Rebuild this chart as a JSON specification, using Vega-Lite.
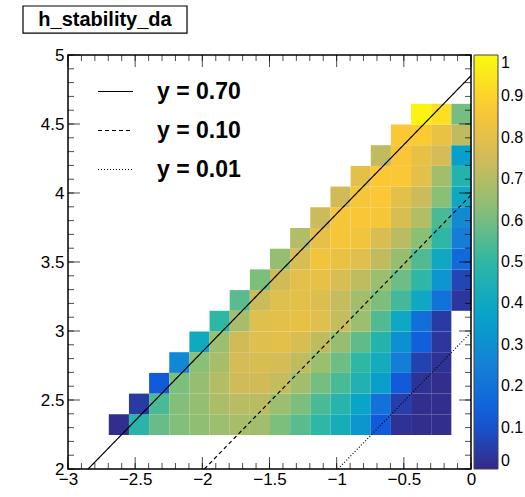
{
  "$schema": "https://vega.github.io/schema/vega-lite/v6.json",
  "padding": {"left": 22, "top": 5, "right": 0, "bottom": 0},
  "width": 403,
  "height": 414,
  "view": {"stroke": null},
  "config": {
    "font": "Liberation Sans",
    "view": {"stroke": null},
    "axis": {
      "labelFont": "Liberation Sans",
      "labelFontSize": 17,
      "labelColor": "#000",
      "ticks": false,
      "domain": false,
      "grid": false,
      "title": null,
      "labelFlush": false,
      "labelOverlap": false
    }
  },
  "datasets": {
    "cells": [
      {"x": -2.625, "y": 2.375, "v": 0.01}, {"x": -2.475, "y": 2.375, "v": 0.48}, {"x": -2.325, "y": 2.375, "v": 0.58},
      {"x": -2.175, "y": 2.375, "v": 0.62}, {"x": -2.025, "y": 2.375, "v": 0.64}, {"x": -1.875, "y": 2.375, "v": 0.66},
      {"x": -1.725, "y": 2.375, "v": 0.68}, {"x": -1.575, "y": 2.375, "v": 0.67}, {"x": -1.425, "y": 2.375, "v": 0.61},
      {"x": -1.275, "y": 2.375, "v": 0.56}, {"x": -1.125, "y": 2.375, "v": 0.5}, {"x": -0.975, "y": 2.375, "v": 0.43},
      {"x": -0.825, "y": 2.375, "v": 0.33}, {"x": -0.675, "y": 2.375, "v": 0.12}, {"x": -0.525, "y": 2.375, "v": 0.02},
      {"x": -0.375, "y": 2.375, "v": 0.01}, {"x": -0.225, "y": 2.375, "v": 0.01},

      {"x": -2.475, "y": 2.525, "v": 0.04}, {"x": -2.325, "y": 2.525, "v": 0.54}, {"x": -2.175, "y": 2.525, "v": 0.62},
      {"x": -2.025, "y": 2.525, "v": 0.65}, {"x": -1.875, "y": 2.525, "v": 0.69}, {"x": -1.725, "y": 2.525, "v": 0.71},
      {"x": -1.575, "y": 2.525, "v": 0.71}, {"x": -1.425, "y": 2.525, "v": 0.66}, {"x": -1.275, "y": 2.525, "v": 0.61},
      {"x": -1.125, "y": 2.525, "v": 0.54}, {"x": -0.975, "y": 2.525, "v": 0.48}, {"x": -0.825, "y": 2.525, "v": 0.38},
      {"x": -0.675, "y": 2.525, "v": 0.2}, {"x": -0.525, "y": 2.525, "v": 0.05}, {"x": -0.375, "y": 2.525, "v": 0.01},
      {"x": -0.225, "y": 2.525, "v": 0.01},

      {"x": -2.325, "y": 2.675, "v": 0.12}, {"x": -2.175, "y": 2.675, "v": 0.61}, {"x": -2.025, "y": 2.675, "v": 0.65},
      {"x": -1.875, "y": 2.675, "v": 0.7}, {"x": -1.725, "y": 2.675, "v": 0.75}, {"x": -1.575, "y": 2.675, "v": 0.75},
      {"x": -1.425, "y": 2.675, "v": 0.73}, {"x": -1.275, "y": 2.675, "v": 0.67}, {"x": -1.125, "y": 2.675, "v": 0.6},
      {"x": -0.975, "y": 2.675, "v": 0.54}, {"x": -0.825, "y": 2.675, "v": 0.46}, {"x": -0.675, "y": 2.675, "v": 0.36},
      {"x": -0.525, "y": 2.675, "v": 0.12}, {"x": -0.375, "y": 2.675, "v": 0.02}, {"x": -0.225, "y": 2.675, "v": 0.01},

      {"x": -2.175, "y": 2.825, "v": 0.27}, {"x": -2.025, "y": 2.825, "v": 0.63}, {"x": -1.875, "y": 2.825, "v": 0.68},
      {"x": -1.725, "y": 2.825, "v": 0.76}, {"x": -1.575, "y": 2.825, "v": 0.77}, {"x": -1.425, "y": 2.825, "v": 0.76},
      {"x": -1.275, "y": 2.825, "v": 0.72}, {"x": -1.125, "y": 2.825, "v": 0.66}, {"x": -0.975, "y": 2.825, "v": 0.59},
      {"x": -0.825, "y": 2.825, "v": 0.5}, {"x": -0.675, "y": 2.825, "v": 0.42}, {"x": -0.525, "y": 2.825, "v": 0.24},
      {"x": -0.375, "y": 2.825, "v": 0.06}, {"x": -0.225, "y": 2.825, "v": 0.02},

      {"x": -2.025, "y": 2.975, "v": 0.41}, {"x": -1.875, "y": 2.975, "v": 0.66}, {"x": -1.725, "y": 2.975, "v": 0.75},
      {"x": -1.575, "y": 2.975, "v": 0.79}, {"x": -1.425, "y": 2.975, "v": 0.8}, {"x": -1.275, "y": 2.975, "v": 0.77},
      {"x": -1.125, "y": 2.975, "v": 0.72}, {"x": -0.975, "y": 2.975, "v": 0.65}, {"x": -0.825, "y": 2.975, "v": 0.57},
      {"x": -0.675, "y": 2.975, "v": 0.47}, {"x": -0.525, "y": 2.975, "v": 0.3}, {"x": -0.375, "y": 2.975, "v": 0.14},
      {"x": -0.225, "y": 2.975, "v": 0.03},

      {"x": -1.875, "y": 3.125, "v": 0.5}, {"x": -1.725, "y": 3.125, "v": 0.68}, {"x": -1.575, "y": 3.125, "v": 0.79},
      {"x": -1.425, "y": 3.125, "v": 0.8}, {"x": -1.275, "y": 3.125, "v": 0.81}, {"x": -1.125, "y": 3.125, "v": 0.79},
      {"x": -0.975, "y": 3.125, "v": 0.73}, {"x": -0.825, "y": 3.125, "v": 0.66}, {"x": -0.675, "y": 3.125, "v": 0.55},
      {"x": -0.525, "y": 3.125, "v": 0.4}, {"x": -0.375, "y": 3.125, "v": 0.19}, {"x": -0.225, "y": 3.125, "v": 0.04},

      {"x": -1.725, "y": 3.275, "v": 0.56}, {"x": -1.575, "y": 3.275, "v": 0.74}, {"x": -1.425, "y": 3.275, "v": 0.79},
      {"x": -1.275, "y": 3.275, "v": 0.8}, {"x": -1.125, "y": 3.275, "v": 0.78}, {"x": -0.975, "y": 3.275, "v": 0.73},
      {"x": -0.825, "y": 3.275, "v": 0.67}, {"x": -0.675, "y": 3.275, "v": 0.61}, {"x": -0.525, "y": 3.275, "v": 0.53},
      {"x": -0.375, "y": 3.275, "v": 0.4}, {"x": -0.225, "y": 3.275, "v": 0.2}, {"x": -0.075, "y": 3.275, "v": 0.03},

      {"x": -1.575, "y": 3.425, "v": 0.61}, {"x": -1.425, "y": 3.425, "v": 0.75}, {"x": -1.275, "y": 3.425, "v": 0.8},
      {"x": -1.125, "y": 3.425, "v": 0.81}, {"x": -0.975, "y": 3.425, "v": 0.77}, {"x": -0.825, "y": 3.425, "v": 0.72},
      {"x": -0.675, "y": 3.425, "v": 0.66}, {"x": -0.525, "y": 3.425, "v": 0.59}, {"x": -0.375, "y": 3.425, "v": 0.5},
      {"x": -0.225, "y": 3.425, "v": 0.32}, {"x": -0.075, "y": 3.425, "v": 0.07},

      {"x": -1.425, "y": 3.575, "v": 0.65}, {"x": -1.275, "y": 3.575, "v": 0.77}, {"x": -1.125, "y": 3.575, "v": 0.84},
      {"x": -0.975, "y": 3.575, "v": 0.82}, {"x": -0.825, "y": 3.575, "v": 0.79}, {"x": -0.675, "y": 3.575, "v": 0.72},
      {"x": -0.525, "y": 3.575, "v": 0.65}, {"x": -0.375, "y": 3.575, "v": 0.55}, {"x": -0.225, "y": 3.575, "v": 0.4},
      {"x": -0.075, "y": 3.575, "v": 0.17},

      {"x": -1.275, "y": 3.725, "v": 0.7}, {"x": -1.125, "y": 3.725, "v": 0.81}, {"x": -0.975, "y": 3.725, "v": 0.85},
      {"x": -0.825, "y": 3.725, "v": 0.84}, {"x": -0.675, "y": 3.725, "v": 0.77}, {"x": -0.525, "y": 3.725, "v": 0.71},
      {"x": -0.375, "y": 3.725, "v": 0.63}, {"x": -0.225, "y": 3.725, "v": 0.5}, {"x": -0.075, "y": 3.725, "v": 0.24},

      {"x": -1.125, "y": 3.875, "v": 0.74}, {"x": -0.975, "y": 3.875, "v": 0.85}, {"x": -0.825, "y": 3.875, "v": 0.86},
      {"x": -0.675, "y": 3.875, "v": 0.85}, {"x": -0.525, "y": 3.875, "v": 0.77}, {"x": -0.375, "y": 3.875, "v": 0.7},
      {"x": -0.225, "y": 3.875, "v": 0.54}, {"x": -0.075, "y": 3.875, "v": 0.28},

      {"x": -0.975, "y": 4.025, "v": 0.75}, {"x": -0.825, "y": 4.025, "v": 0.85}, {"x": -0.675, "y": 4.025, "v": 0.87},
      {"x": -0.525, "y": 4.025, "v": 0.8}, {"x": -0.375, "y": 4.025, "v": 0.74}, {"x": -0.225, "y": 4.025, "v": 0.63},
      {"x": -0.075, "y": 4.025, "v": 0.4},

      {"x": -0.825, "y": 4.175, "v": 0.8}, {"x": -0.675, "y": 4.175, "v": 0.87}, {"x": -0.525, "y": 4.175, "v": 0.87},
      {"x": -0.375, "y": 4.175, "v": 0.8}, {"x": -0.225, "y": 4.175, "v": 0.67}, {"x": -0.075, "y": 4.175, "v": 0.47},

      {"x": -0.675, "y": 4.325, "v": 0.72}, {"x": -0.525, "y": 4.325, "v": 0.86}, {"x": -0.375, "y": 4.325, "v": 0.81},
      {"x": -0.225, "y": 4.325, "v": 0.76}, {"x": -0.075, "y": 4.325, "v": 0.36},

      {"x": -0.525, "y": 4.475, "v": 0.87}, {"x": -0.375, "y": 4.475, "v": 0.88}, {"x": -0.225, "y": 4.475, "v": 0.82},
      {"x": -0.075, "y": 4.475, "v": 0.72},

      {"x": -0.375, "y": 4.625, "v": 0.98}, {"x": -0.225, "y": 4.625, "v": 0.93}, {"x": -0.075, "y": 4.625, "v": 0.6}
    ],
    "lines": [
      {"label": "y = 0.70", "x1": -2.85, "y1": 2, "x2": 0, "y2": 4.85},
      {"label": "y = 0.10", "x1": -1.985, "y1": 2, "x2": 0, "y2": 3.985},
      {"label": "y = 0.01", "x1": -0.99, "y1": 2, "x2": 0, "y2": 2.99}
    ],
    "xticks": [
      {"t": -3, "major": true}, {"t": -2.9, "major": false}, {"t": -2.8, "major": false}, {"t": -2.7, "major": false}, {"t": -2.6, "major": false},
      {"t": -2.5, "major": true}, {"t": -2.4, "major": false}, {"t": -2.3, "major": false}, {"t": -2.2, "major": false}, {"t": -2.1, "major": false},
      {"t": -2, "major": true}, {"t": -1.9, "major": false}, {"t": -1.8, "major": false}, {"t": -1.7, "major": false}, {"t": -1.6, "major": false},
      {"t": -1.5, "major": true}, {"t": -1.4, "major": false}, {"t": -1.3, "major": false}, {"t": -1.2, "major": false}, {"t": -1.1, "major": false},
      {"t": -1, "major": true}, {"t": -0.9, "major": false}, {"t": -0.8, "major": false}, {"t": -0.7, "major": false}, {"t": -0.6, "major": false},
      {"t": -0.5, "major": true}, {"t": -0.4, "major": false}, {"t": -0.3, "major": false}, {"t": -0.2, "major": false}, {"t": -0.1, "major": false},
      {"t": 0, "major": true}
    ],
    "yticks": [
      {"t": 2, "major": true}, {"t": 2.1, "major": false}, {"t": 2.2, "major": false}, {"t": 2.3, "major": false}, {"t": 2.4, "major": false},
      {"t": 2.5, "major": true}, {"t": 2.6, "major": false}, {"t": 2.7, "major": false}, {"t": 2.8, "major": false}, {"t": 2.9, "major": false},
      {"t": 3, "major": true}, {"t": 3.1, "major": false}, {"t": 3.2, "major": false}, {"t": 3.3, "major": false}, {"t": 3.4, "major": false},
      {"t": 3.5, "major": true}, {"t": 3.6, "major": false}, {"t": 3.7, "major": false}, {"t": 3.8, "major": false}, {"t": 3.9, "major": false},
      {"t": 4, "major": true}, {"t": 4.1, "major": false}, {"t": 4.2, "major": false}, {"t": 4.3, "major": false}, {"t": 4.4, "major": false},
      {"t": 4.5, "major": true}, {"t": 4.6, "major": false}, {"t": 4.7, "major": false}, {"t": 4.8, "major": false}, {"t": 4.9, "major": false},
      {"t": 5, "major": true}
    ]
  },
  "resolve": {"axis": {"x": "independent", "y": "independent"}},
  "layer": [
    {
      "data": {"name": "cells"},
      "mark": {"type": "rect", "binSpacing": 0, "strokeWidth": 0},
      "encoding": {
        "x": {
          "field": "x", "type": "quantitative",
          "bin": {"extent": [-3, 0], "step": 0.15},
          "scale": {"domain": [-3, 0], "nice": false, "zero": false},
          "axis": {"orient": "bottom", "values": [-3, -2.5, -2, -1.5, -1, -0.5, 0], "format": "~g", "ticks": false, "labelPadding": 2}
        },
        "y": {
          "field": "y", "type": "quantitative",
          "bin": {"extent": [2, 5], "step": 0.15},
          "scale": {"domain": [2, 5], "nice": false, "zero": false},
          "axis": {"orient": "left", "values": [2, 2.5, 3, 3.5, 4, 4.5, 5], "format": "~g", "ticks": false, "labelPadding": 4}
        },
        "color": {
          "field": "v", "type": "quantitative",
          "scale": {
            "domain": [0, 0.125, 0.25, 0.375, 0.5, 0.625, 0.75, 0.875, 1],
            "range": ["#352a87", "#0f5cdd", "#1481d6", "#06a4ca", "#2eb7a4", "#87bf77", "#d1bb59", "#fec832", "#f9fb0e"],
            "interpolate": "rgb"
          },
          "legend": {
            "orient": "right", "offset": 3, "title": null, "direction": "vertical",
            "gradientLength": 414, "gradientThickness": 24,
            "gradientStrokeColor": "#444", "gradientStrokeWidth": 1,
            "values": [0, 0.1, 0.2, 0.3, 0.4, 0.5, 0.6, 0.7, 0.8, 0.9, 1],
            "format": "~g", "labelFont": "Liberation Sans", "labelFontSize": 16,
            "labelColor": "#000", "labelOffset": 3, "labelOverlap": false, "padding": 0
          }
        }
      }
    },
    {
      "data": {"name": "lines"},
      "mark": {"type": "rule", "color": "#000", "strokeWidth": 1.2},
      "encoding": {
        "x": {"field": "x1", "type": "quantitative", "axis": null},
        "x2": {"field": "x2"},
        "y": {"field": "y1", "type": "quantitative", "axis": null},
        "y2": {"field": "y2"},
        "strokeDash": {
          "field": "label", "type": "nominal",
          "scale": {"domain": ["y = 0.70", "y = 0.10", "y = 0.01"], "range": [[1, 0], [4, 3], [1, 2]]},
          "legend": {
            "orient": "top-left", "offset": 18, "title": null,
            "symbolType": "stroke", "symbolSize": 1225, "symbolStrokeWidth": 1.2, "symbolStrokeColor": "#000",
            "symbolOffset": 11,
            "labelFont": "Liberation Sans", "labelFontSize": 23, "labelFontWeight": "bold", "labelColor": "#000",
            "labelOffset": 23, "rowPadding": 8, "padding": 0
          }
        }
      }
    },
    {
      "data": {"values": [{}]},
      "mark": {"type": "rect", "fill": null, "fillOpacity": 0, "stroke": "#000", "strokeWidth": 1.5},
      "encoding": {
        "x": {"datum": -3, "type": "quantitative", "axis": null},
        "x2": {"datum": 0},
        "y": {"datum": 2, "type": "quantitative", "axis": null},
        "y2": {"datum": 5}
      }
    },
    {
      "data": {"name": "xticks"},
      "mark": {"type": "tick", "orient": "vertical", "size": 6, "thickness": 1, "color": "#000", "yOffset": -3},
      "encoding": {
        "x": {"field": "t", "type": "quantitative", "axis": null},
        "y": {"datum": 2, "type": "quantitative", "axis": null}
      }
    },
    {
      "data": {"name": "xticks"},
      "mark": {"type": "tick", "orient": "vertical", "size": 6, "thickness": 1, "color": "#000", "yOffset": 3},
      "encoding": {
        "x": {"field": "t", "type": "quantitative", "axis": null},
        "y": {"datum": 5, "type": "quantitative", "axis": null}
      }
    },
    {
      "data": {"name": "xticks"},
      "transform": [{"filter": "datum.major"}],
      "mark": {"type": "tick", "orient": "vertical", "size": 12, "thickness": 1, "color": "#000", "yOffset": -6},
      "encoding": {
        "x": {"field": "t", "type": "quantitative", "axis": null},
        "y": {"datum": 2, "type": "quantitative", "axis": null}
      }
    },
    {
      "data": {"name": "xticks"},
      "transform": [{"filter": "datum.major"}],
      "mark": {"type": "tick", "orient": "vertical", "size": 12, "thickness": 1, "color": "#000", "yOffset": 6},
      "encoding": {
        "x": {"field": "t", "type": "quantitative", "axis": null},
        "y": {"datum": 5, "type": "quantitative", "axis": null}
      }
    },
    {
      "data": {"name": "yticks"},
      "mark": {"type": "tick", "orient": "horizontal", "size": 6, "thickness": 1, "color": "#000", "xOffset": 3},
      "encoding": {
        "y": {"field": "t", "type": "quantitative", "axis": null},
        "x": {"datum": -3, "type": "quantitative", "axis": null}
      }
    },
    {
      "data": {"name": "yticks"},
      "mark": {"type": "tick", "orient": "horizontal", "size": 6, "thickness": 1, "color": "#000", "xOffset": -3},
      "encoding": {
        "y": {"field": "t", "type": "quantitative", "axis": null},
        "x": {"datum": 0, "type": "quantitative", "axis": null}
      }
    },
    {
      "data": {"name": "yticks"},
      "transform": [{"filter": "datum.major"}],
      "mark": {"type": "tick", "orient": "horizontal", "size": 12, "thickness": 1, "color": "#000", "xOffset": 6},
      "encoding": {
        "y": {"field": "t", "type": "quantitative", "axis": null},
        "x": {"datum": -3, "type": "quantitative", "axis": null}
      }
    },
    {
      "data": {"name": "yticks"},
      "transform": [{"filter": "datum.major"}],
      "mark": {"type": "tick", "orient": "horizontal", "size": 12, "thickness": 1, "color": "#000", "xOffset": -6},
      "encoding": {
        "y": {"field": "t", "type": "quantitative", "axis": null},
        "x": {"datum": 0, "type": "quantitative", "axis": null}
      }
    },
    {
      "data": {"values": [{}]},
      "mark": {"type": "rect", "fill": "#fff", "stroke": "#000", "strokeWidth": 1.2, "clip": false},
      "encoding": {
        "x": {"datum": -3.335, "type": "quantitative", "axis": null},
        "x2": {"datum": -2.114},
        "y": {"datum": 5.355, "type": "quantitative", "axis": null},
        "y2": {"datum": 5.159}
      }
    },
    {
      "data": {"values": [{}]},
      "mark": {"type": "text", "text": "h_stability_da", "font": "Liberation Sans", "fontWeight": "bold", "fontSize": 20, "align": "center", "baseline": "middle", "color": "#000", "clip": false},
      "encoding": {
        "x": {"datum": -2.7245, "type": "quantitative", "axis": null},
        "y": {"datum": 5.257, "type": "quantitative", "axis": null}
      }
    }
  ]
}
